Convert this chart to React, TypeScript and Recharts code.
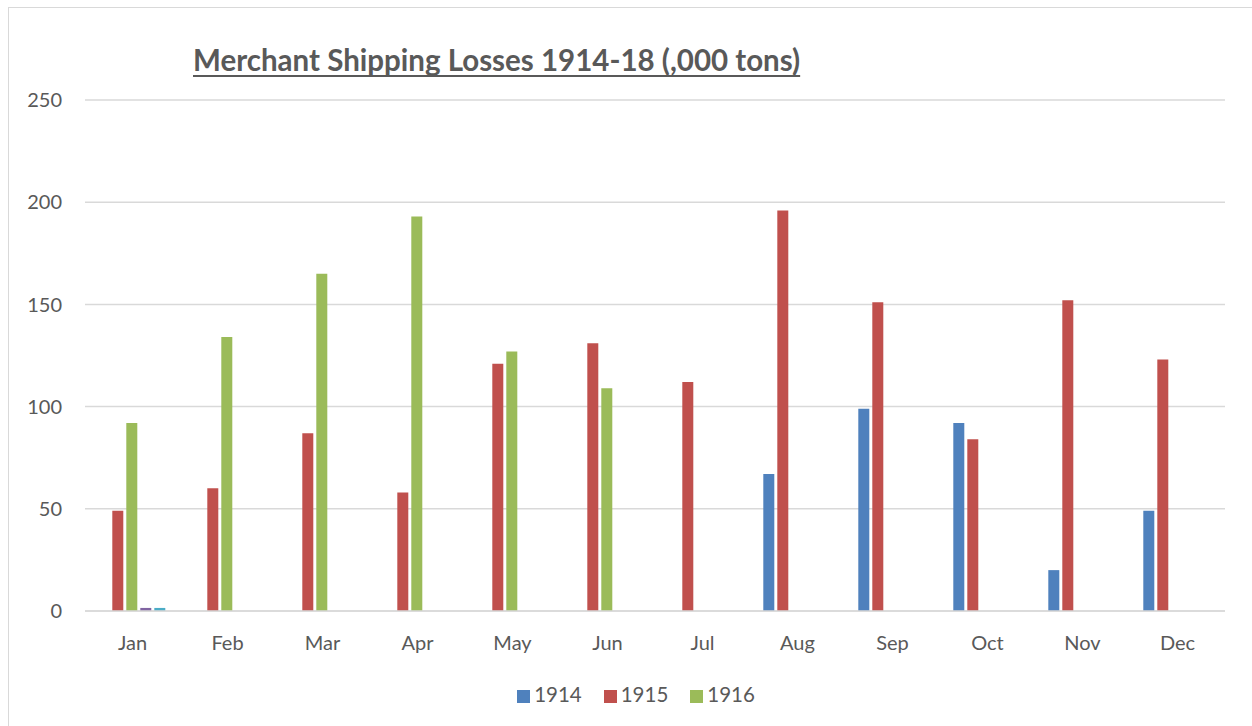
import { BarChart, Bar, XAxis, YAxis, CartesianGrid, Legend } from "recharts";

// Merchant shipping losses by month, thousand tons
const months = ["Jan", "Feb", "Mar", "Apr", "May", "Jun", "Jul", "Aug", "Sep", "Oct", "Nov", "Dec"];
const losses1914 = [0, 0, 0, 0, 0, 0, 0, 67, 99, 92, 20, 49];
const losses1915 = [49, 60, 87, 58, 121, 131, 112, 196, 151, 84, 152, 123];
const losses1916 = [92, 134, 165, 193, 127, 109, 0, 0, 0, 0, 0, 0];
const losses1917 = [1.5, 0, 0, 0, 0, 0, 0, 0, 0, 0, 0, 0];
const losses1918 = [1.5, 0, 0, 0, 0, 0, 0, 0, 0, 0, 0, 0];
const yTicks = [0, 50, 100, 150, 200, 250];

const data = months.map((m, i) => ({
    month: m,
    y1914: losses1914[i],
    y1915: losses1915[i],
    y1916: losses1916[i],
    y1917: losses1917[i],
    y1918: losses1918[i],
}));

const FONT = "Lato, 'Open Sans', sans-serif";
const TEXT = "#595959";
const GRID = "#D9D9D9";

export default function App() {
    return (
        <div style={{ position: "absolute", left: 0, top: 0, width: 1252, height: 726, background: "#fff", overflow: "hidden", fontFamily: FONT }}>
            {/* chart frame */}
            <div style={{
                position: "absolute",
                left: 8,
                top: 7,
                width: 1300,
                height: 800,
                borderLeft: `1px solid ${GRID}`,
                borderTop: `1px solid ${GRID}`,
            }} />
            <div style={{
                position: "absolute",
                left: 193,
                top: 42,
                fontSize: 29.5,
                fontWeight: 700,
                color: TEXT,
                textDecoration: "underline",
                textDecorationSkipInk: "none",
                textDecorationThickness: 2,
                textUnderlineOffset: 4,
                whiteSpace: "nowrap",
            }}>
                Merchant Shipping Losses 1914-18 (,000 tons)
            </div>
            <div style={{ position: "absolute", left: 0, top: 0 }}>
                <BarChart
                    width={1252}
                    height={726}
                    data={data}
                    margin={{ top: 100, right: 27, left: 5, bottom: 51 }}
                    barCategoryGap="14%"
                    barGap={3}
                >
                    <CartesianGrid vertical={false} stroke={GRID} strokeWidth={1.5} />
                    <XAxis
                        dataKey="month"
                        tickLine={false}
                        axisLine={{ stroke: GRID, strokeWidth: 1.5 }}
                        tick={{ fill: TEXT, fontSize: 20, fontFamily: FONT }}
                        tickMargin={19}
                        height={40}
                    />
                    <YAxis
                        width={80}
                        domain={[0, 250]}
                        ticks={yTicks}
                        tickLine={false}
                        axisLine={false}
                        tickSize={0}
                        tickMargin={23}
                        tick={{ fill: TEXT, fontSize: 20, fontFamily: FONT }}
                    />
                    <Legend
                        verticalAlign="bottom"
                        iconType="square"
                        iconSize={13}
                        wrapperStyle={{ top: 682, left: 7, width: 1280, fontFamily: FONT, fontSize: 20.5 }}
                        formatter={(value) => <span style={{ color: TEXT, marginRight: 12 }}>{value}</span>}
                    />
                    <Bar dataKey="y1914" name="1914" fill="#4F81BD" isAnimationActive={false} />
                    <Bar dataKey="y1915" name="1915" fill="#C0504D" isAnimationActive={false} />
                    <Bar dataKey="y1916" name="1916" fill="#9BBB59" isAnimationActive={false} />
                    <Bar dataKey="y1917" name="1917" fill="#8064A2" legendType="none" isAnimationActive={false} />
                    <Bar dataKey="y1918" name="1918" fill="#4BACC6" legendType="none" isAnimationActive={false} />
                </BarChart>
            </div>
        </div>
    );
}
